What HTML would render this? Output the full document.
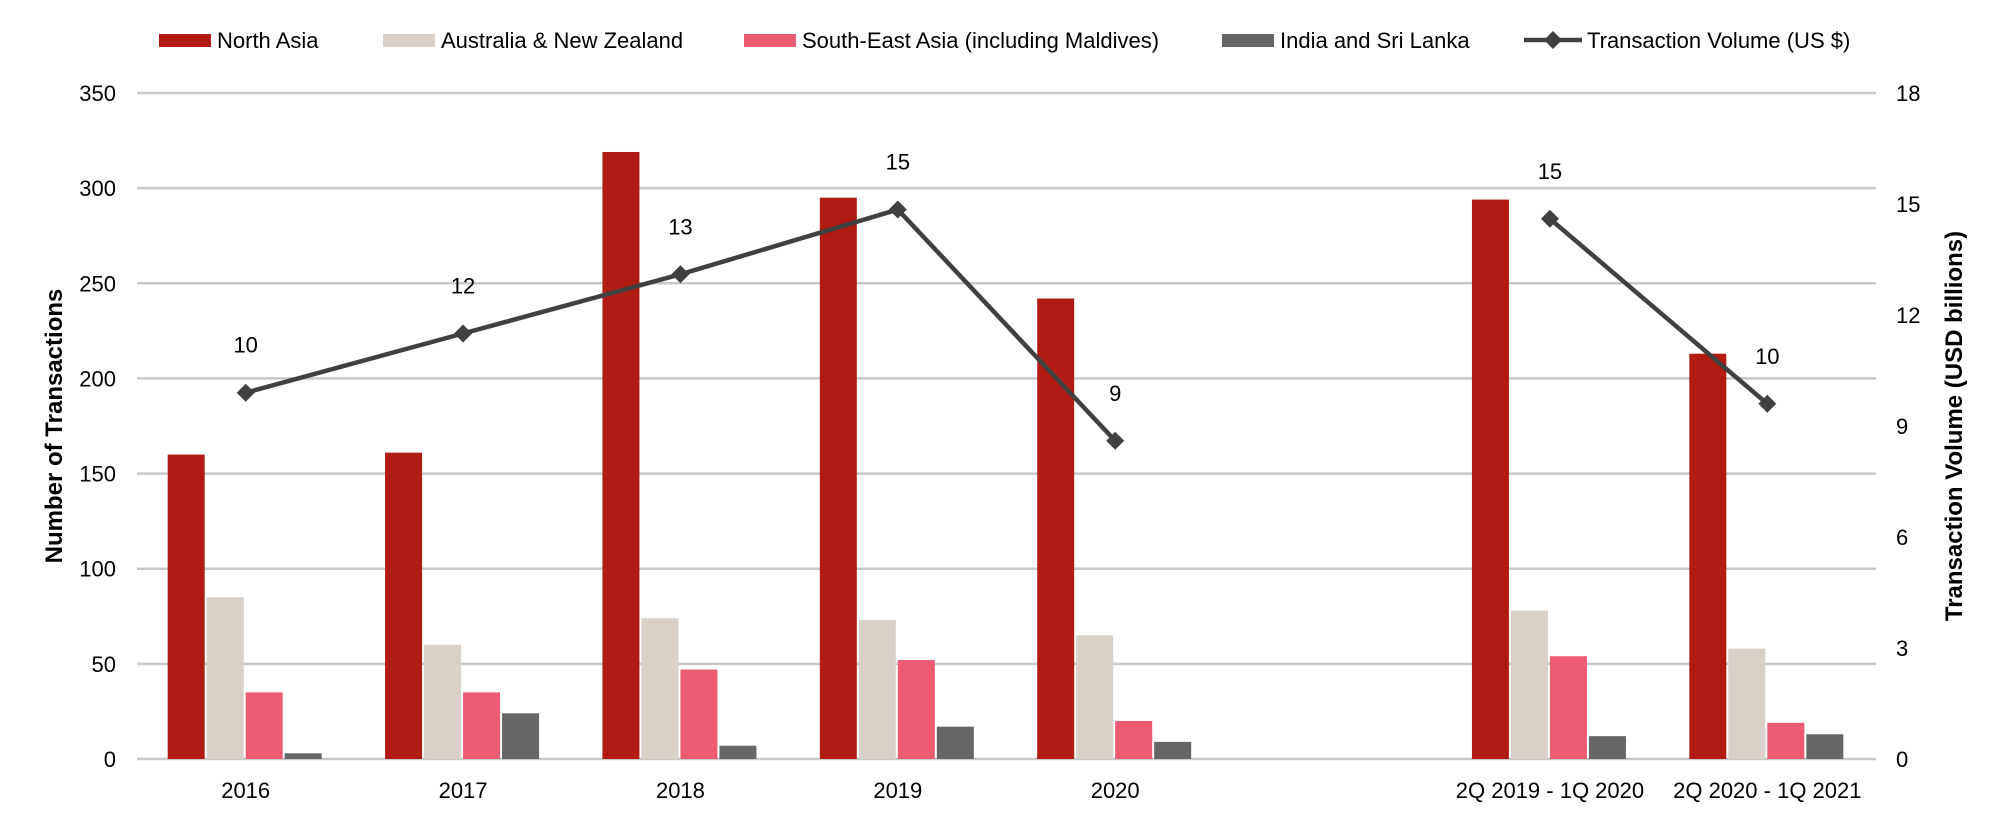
<!DOCTYPE html>
<html><head><meta charset="utf-8"><style>
html,body{margin:0;padding:0;background:#fff;}
svg{display:block;font-family:"Liberation Sans",sans-serif;}
</style></head><body>
<svg id="chart" width="2000" height="824" viewBox="0 0 2000 824"></svg>
<script>
const categories = ["2016","2017","2018","2019","2020","","2Q 2019 - 1Q 2020","2Q 2020 - 1Q 2021"];
const northAsia = [160,161,319,295,242,null,294,213];
const anz = [85,60,74,73,65,null,78,58];
const sea = [35,35,47,52,20,null,54,19];
const india = [3,24,7,17,9,null,12,13];
const volume = [9.9,11.5,13.1,14.85,8.6,null,14.6,9.6];
const volumeLabels = ["10","12","13","15","9","","15","10"];
const leftTicks = [0,50,100,150,200,250,300,350];
const rightTicks = [0,3,6,9,12,15,18];

const NS="http://www.w3.org/2000/svg";
const svg=document.getElementById('chart');
const X0=137,X1=1876,Y0=759,Y1=93;
const step=(X1-X0)/categories.length;
const xc=i=>X0+step*(i+0.5);
const yL=v=>Y0-(v/350)*(Y0-Y1);
const yR=v=>Y0-(v/18)*(Y0-Y1);
function mk(tag,attrs,txt){const e=document.createElementNS(NS,tag);for(const k in attrs)e.setAttribute(k,attrs[k]);if(txt!==undefined)e.textContent=txt;svg.appendChild(e);return e;}

leftTicks.forEach(t=>{
  const g=mk('line',{x1:X0,x2:X1,y1:yL(t),y2:yL(t),stroke:'#c8c8c8','stroke-width':2.5});
  
  
  const l=mk('text',{x:116,y:yL(t)+8,'text-anchor':'end','font-size':22,fill:'#000'},t);
  
  
});
rightTicks.forEach(t=>{
  const l=mk('text',{x:1896,y:yR(t)+8,'font-size':22,fill:'#000'},t);
  
  
});

const series=[[northAsia,'#b01c14','bar-north-asia'],[anz,'#d9d0c7','bar-australia-nz'],[sea,'#ec5b72','bar-south-east-asia'],[india,'#666666','bar-india-sri-lanka']];
categories.forEach((c,i)=>{
  series.forEach((s,j)=>{
    const v=s[0][i]; if(v==null) return;
    const x=xc(i)-78+j*39;
    const r=mk('rect',{x:x,y:yL(v),width:37,height:Y0-yL(v),fill:s[1]});
    
    
  });
  if(c){
    const t=mk('text',{x:xc(i),y:798,'text-anchor':'middle','font-size':22,fill:'#000'},c);
    
    
  }
});

let seg=[];
const segs=[];
volume.forEach((v,i)=>{if(v==null){if(seg.length)segs.push(seg);seg=[];}else seg.push([xc(i),yR(v)]);});
if(seg.length)segs.push(seg);
segs.forEach(s=>{
  const p=mk('polyline',{points:s.map(q=>q.join(',')).join(' '),fill:'none',stroke:'#404040','stroke-width':4.5});
  
  
});
volume.forEach((v,i)=>{
  if(v==null) return;
  const x=xc(i),y=yR(v);
  const d=mk('polygon',{points:`${x},${y-9} ${x+9},${y} ${x},${y+9} ${x-9},${y}`,fill:'#404040'});
  
  
  const t=mk('text',{x:x,y:y-40,'text-anchor':'middle','font-size':22,fill:'#000'},volumeLabels[i]);
  
  
});

const yt=mk('text',{x:0,y:0,transform:'translate(62,426) rotate(-90)','text-anchor':'middle','font-size':24,'font-weight':'bold',fill:'#000'},'Number of Transactions');


const yt2=mk('text',{x:0,y:0,transform:'translate(1962,426) rotate(-90)','text-anchor':'middle','font-size':24,'font-weight':'bold',fill:'#000'},'Transaction Volume (USD billions)');



const legendItems=[['North Asia','#b01c14',159,'legend-north-asia'],['Australia & New Zealand','#d9d0c7',383,'legend-australia-nz'],['South-East Asia (including Maldives)','#ec5b72',744,'legend-south-east-asia'],['India and Sri Lanka','#666666',1222,'legend-india-sri-lanka']];
legendItems.forEach(it=>{
  const r=mk('rect',{x:it[2],y:34,width:52,height:13,fill:it[1]});
  
  
  const t=mk('text',{x:it[2]+58,y:48,'font-size':22,fill:'#000'},it[0]);
  
  
});
const ll=mk('line',{x1:1524,x2:1582,y1:40,y2:40,stroke:'#404040','stroke-width':4.5});


const lm=mk('polygon',{points:'1553,31 1562,40 1553,49 1544,40',fill:'#404040'});


const lt=mk('text',{x:1587,y:48,'font-size':22,fill:'#000'},'Transaction Volume (US $)');


</script>
</body></html>
